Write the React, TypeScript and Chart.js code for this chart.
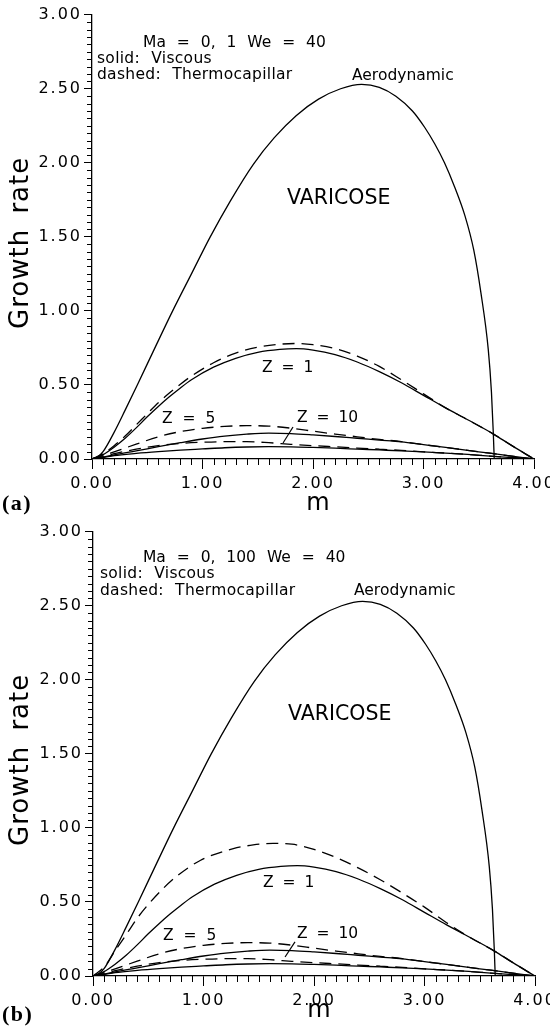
import React, { useEffect, useRef } from 'react';
import { Chart, registerables } from 'chart.js';
Chart.register(...registerables);

// ---------- axis ticks ----------
const xTicks = [0, 1, 2, 3, 4];
const yTicks = [0, 0.5, 1, 1.5, 2, 2.5, 3];
const xMinorStep = 0.1;
const yMinorStep = 0.05;

// ---------- Aerodynamic (solid, both panels) ----------
const aeroM = [0, 0.05, 0.1, 0.2, 0.3, 0.41, 0.55, 0.73, 0.9, 1.07, 1.25, 1.46, 1.65, 1.85, 2.05, 2.25, 2.44, 2.6, 2.75, 2.9, 3.01, 3.1, 3.19, 3.28, 3.376, 3.455, 3.52, 3.586, 3.615, 3.632, 3.64];
const aeroG = [0, 0.015, 0.05, 0.18, 0.33, 0.5, 0.72, 1.0, 1.25, 1.5, 1.74, 1.99, 2.17, 2.32, 2.43, 2.5, 2.53, 2.51, 2.45, 2.35, 2.24, 2.13, 2.0, 1.84, 1.64, 1.41, 1.12, 0.74, 0.45, 0.17, 0];

// ---------- Z = 1 ----------
const z1M = [0, 0.1, 0.2, 0.3, 0.4, 0.5, 0.6, 0.7, 0.8, 0.9, 1.1, 1.3, 1.5, 1.7, 1.85, 2.0, 2.2, 2.4, 2.6, 2.8, 3.0, 3.2, 3.4, 3.63, 3.8, 4.0];
const z1SolidG = [0, 0.03, 0.08, 0.14, 0.21, 0.285, 0.355, 0.42, 0.48, 0.535, 0.62, 0.68, 0.72, 0.74, 0.745, 0.735, 0.705, 0.655, 0.59, 0.515, 0.43, 0.345, 0.265, 0.17, 0.09, 0];
const z1DashAG = [0, 0.035, 0.09, 0.155, 0.23, 0.305, 0.38, 0.445, 0.505, 0.56, 0.65, 0.715, 0.755, 0.775, 0.78, 0.772, 0.745, 0.695, 0.625, 0.535, 0.44, 0.345, 0.265, 0.17, 0.09, 0];
const z1DashBM = [0, 0.1, 0.2, 0.31, 0.4, 0.52, 0.64, 0.76, 0.97, 1.27, 1.45, 1.63, 1.8, 2.0, 2.2, 2.4, 2.6, 2.8, 3.0, 3.2, 3.4, 3.63, 3.8, 4.0];
const z1DashBG = [0, 0.06, 0.17, 0.29, 0.39, 0.5, 0.595, 0.675, 0.78, 0.86, 0.885, 0.895, 0.89, 0.855, 0.8, 0.73, 0.65, 0.56, 0.465, 0.36, 0.265, 0.17, 0.09, 0];

// ---------- Z = 5 and Z = 10 ----------
const zLowM = [0, 0.1, 0.2, 0.4, 0.6, 0.8, 1.0, 1.2, 1.4, 1.6, 1.8, 2.0, 2.2, 2.4, 2.6, 2.8, 3.0, 3.2, 3.4, 3.6, 3.8, 4.0];
const z5SolidG = [0, 0.012, 0.028, 0.055, 0.083, 0.11, 0.135, 0.155, 0.168, 0.175, 0.172, 0.163, 0.152, 0.14, 0.128, 0.116, 0.097, 0.078, 0.058, 0.039, 0.019, 0];
const z5DashG = [0, 0.022, 0.048, 0.1, 0.15, 0.185, 0.207, 0.22, 0.225, 0.222, 0.208, 0.188, 0.168, 0.15, 0.132, 0.118, 0.097, 0.078, 0.058, 0.039, 0.019, 0];
const z10SolidG = [0, 0.01, 0.023, 0.038, 0.05, 0.06, 0.068, 0.076, 0.081, 0.083, 0.082, 0.078, 0.073, 0.067, 0.061, 0.055, 0.048, 0.04, 0.031, 0.02, 0.01, 0];
const z10DashG = [0, 0.016, 0.036, 0.066, 0.09, 0.105, 0.113, 0.117, 0.117, 0.11, 0.099, 0.09, 0.082, 0.074, 0.066, 0.058, 0.048, 0.04, 0.031, 0.02, 0.01, 0];

// ---------- texts ----------
const yTitle = 'Growth rate';
const xTitle = 'm';
const textsA = ['Ma = 0, 1 We = 40', 'solid: Viscous', 'dashed: Thermocapillar', 'Aerodynamic', 'VARICOSE', 'Z = 1', 'Z = 5', 'Z = 10'];
const textsB = ['Ma = 0, 100 We = 40', 'solid: Viscous', 'dashed: Thermocapillar', 'Aerodynamic', 'VARICOSE', 'Z = 1', 'Z = 5', 'Z = 10'];

const FONT = 'DejaVu Sans';

type Ann = { m: number; g: number; size: number; ws?: number; ls?: number };
const annPlaceA: Ann[] = [
  { m: 0.462, g: 2.784, size: 15.5, ws: 6 },
  { m: 0.045, g: 2.676, size: 15.5, ws: 6, ls: 0.3 },
  { m: 0.045, g: 2.568, size: 15.5, ws: 6, ls: 0.3 },
  { m: 2.353, g: 2.561, size: 15.5 },
  { m: 1.765, g: 1.723, size: 20.5 },
  { m: 1.538, g: 0.588, size: 15.5, ws: 4 },
  { m: 0.633, g: 0.243, size: 15.5, ws: 5 },
  { m: 1.855, g: 0.25, size: 15.5, ws: 4 },
];
const annPlaceB: Ann[] = [
  { m: 0.452, g: 2.797, size: 15.5, ws: 6 },
  { m: 0.063, g: 2.689, size: 15.5, ws: 6, ls: 0.3 },
  { m: 0.063, g: 2.574, size: 15.5, ws: 6, ls: 0.3 },
  { m: 2.362, g: 2.574, size: 15.5 },
  { m: 1.765, g: 1.73, size: 20.5 },
  { m: 1.538, g: 0.601, size: 15.5, ws: 4 },
  { m: 0.633, g: 0.243, size: 15.5, ws: 5 },
  { m: 1.846, g: 0.257, size: 15.5, ws: 4 },
];

type PanelCfg = {
  height: number;
  left: number;
  right: number;
  top: number;
  bottom: number;
  texts: string[];
  place: Ann[];
  slash: [number, number, number, number];
  z1DashM: number[];
  z1DashG: number[];
  letter: string;
  letterBaseline: number;
  xTitleBaseline: number;
};

const panelA: PanelCfg = {
  height: 517, left: 92, right: 534, top: 14.7, bottom: 459,
  texts: textsA, place: annPlaceA, slash: [1.729, 0.108, 1.819, 0.216],
  z1DashM: z1M, z1DashG: z1DashAG, letter: '(a)', letterBaseline: 510, xTitleBaseline: 510,
};
const panelB: PanelCfg = {
  height: 510, left: 93, right: 535, top: 14.7, bottom: 459,
  texts: textsB, place: annPlaceB, slash: [1.738, 0.128, 1.828, 0.23],
  z1DashM: z1DashBM, z1DashG: z1DashBG, letter: '(b)', letterBaseline: 504, xTitleBaseline: 500,
};

const pts = (m: number[], g: number[]) => m.map((v, i) => ({ x: v, y: g[i] }));

function makeOverlay(cfg: PanelCfg) {
  return {
    id: 'overlay',
    beforeDraw(chart: any) {
      (chart.ctx as any).letterSpacing = '2px';
    },
    afterDraw(chart: any) {
      const ctx = chart.ctx as any;
      const { chartArea } = chart;
      const xs = chart.scales.x;
      const ys = chart.scales.y;
      ctx.save();
      ctx.letterSpacing = '0px';
      ctx.strokeStyle = '#000';
      ctx.lineWidth = 1;
      ctx.beginPath();
      const nx = Math.round((xs.max - xs.min) / xMinorStep);
      for (let i = 0; i <= nx; i++) {
        if (i % 10 === 0) continue;
        const px = Math.round(xs.getPixelForValue(xs.min + i * xMinorStep)) + 0.5;
        ctx.moveTo(px, chartArea.bottom);
        ctx.lineTo(px, chartArea.bottom + 6);
      }
      const ny = Math.round((ys.max - ys.min) / yMinorStep);
      for (let j = 0; j <= ny; j++) {
        if (j % 10 === 0) continue;
        const py = Math.round(ys.getPixelForValue(ys.min + j * yMinorStep)) + 0.5;
        ctx.moveTo(chartArea.left - 5, py);
        ctx.lineTo(chartArea.left, py);
      }
      ctx.stroke();

      // slash connector for Z = 10
      ctx.lineWidth = 1.2;
      ctx.beginPath();
      ctx.moveTo(xs.getPixelForValue(cfg.slash[0]), ys.getPixelForValue(cfg.slash[1]));
      ctx.lineTo(xs.getPixelForValue(cfg.slash[2]), ys.getPixelForValue(cfg.slash[3]));
      ctx.stroke();

      // annotations
      ctx.fillStyle = '#000';
      ctx.textBaseline = 'alphabetic';
      ctx.textAlign = 'left';
      cfg.texts.forEach((t, i) => {
        const p = cfg.place[i];
        ctx.font = `${p.size}px "${FONT}"`;
        ctx.wordSpacing = `${p.ws ?? 0}px`;
        ctx.letterSpacing = `${p.ls ?? 0}px`;
        ctx.fillText(t, xs.getPixelForValue(p.m), ys.getPixelForValue(p.g));
      });
      ctx.wordSpacing = '0px';

      // y title
      ctx.save();
      ctx.font = `26px "${FONT}"`;
      ctx.letterSpacing = '1px';
      ctx.wordSpacing = '6px';
      ctx.translate(28, (chartArea.top + chartArea.bottom) / 2 + 6);
      ctx.rotate(-Math.PI / 2);
      ctx.textAlign = 'center';
      ctx.fillText(yTitle, 0, 0);
      ctx.restore();

      // x title
      ctx.font = `24px "${FONT}"`;
      ctx.letterSpacing = '0px';
      ctx.wordSpacing = '0px';
      ctx.textAlign = 'center';
      ctx.fillText(xTitle, xs.getPixelForValue(2) + 5, cfg.xTitleBaseline);

      // panel letter
      ctx.font = `bold 22px "Liberation Serif"`;
      ctx.letterSpacing = '1.5px';
      ctx.textAlign = 'left';
      ctx.fillText(cfg.letter, 2, cfg.letterBaseline);
      ctx.letterSpacing = '0px';
      ctx.restore();
      ctx.letterSpacing = '0px';
    },
  };
}

function Panel({ cfg }: { cfg: PanelCfg }) {
  const ref = useRef<HTMLCanvasElement>(null);
  useEffect(() => {
    const line = (data: any, dashed: boolean) => ({
      data,
      borderColor: '#000',
      borderWidth: 1.3,
      borderDash: dashed ? [12, 7] : [],
      pointRadius: 0,
      fill: false,
      cubicInterpolationMode: 'monotone' as const,
    });
    const tickFont = { family: FONT, size: 16 };
    const chart = new Chart(ref.current!, {
      type: 'line',
      data: {
        datasets: [
          line(pts(aeroM, aeroG), false),
          line(pts(z1M, z1SolidG), false),
          line(pts(cfg.z1DashM, cfg.z1DashG), true),
          line(pts(zLowM, z5SolidG), false),
          line(pts(zLowM, z5DashG), true),
          line(pts(zLowM, z10SolidG), false),
          line(pts(zLowM, z10DashG), true),
        ],
      },
      options: {
        responsive: false,
        animation: false,
        events: [],
        layout: { padding: { top: cfg.top, right: 550 - cfg.right, left: 0, bottom: 0 } },
        plugins: { legend: { display: false }, tooltip: { enabled: false } },
        scales: {
          x: {
            type: 'linear',
            min: 0,
            max: 4,
            afterBuildTicks: (s: any) => { s.ticks = xTicks.map((v) => ({ value: v })); },
            afterFit: (s: any) => { s.height = cfg.height - cfg.bottom; s.paddingLeft = 0; s.paddingRight = 0; },
            ticks: { callback: (v: any) => Number(v).toFixed(2), font: tickFont, color: '#000', padding: 5, maxRotation: 0, autoSkip: false },
            grid: { drawOnChartArea: false, drawTicks: true, tickLength: 10, tickColor: '#000', tickWidth: 1 },
            border: { display: true, color: '#000', width: 1.3 },
          },
          y: {
            type: 'linear',
            min: 0,
            max: 3,
            afterBuildTicks: (s: any) => { s.ticks = yTicks.map((v) => ({ value: v })); },
            afterFit: (s: any) => { s.width = cfg.left; s.paddingTop = 0; s.paddingBottom = 0; },
            ticks: { callback: (v: any) => Number(v).toFixed(2), font: tickFont, color: '#000', padding: 2, autoSkip: false },
            grid: { drawOnChartArea: false, drawTicks: true, tickLength: 8, tickColor: '#000', tickWidth: 1 },
            border: { display: true, color: '#000', width: 1.3 },
          },
        },
      },
      plugins: [makeOverlay(cfg)],
    });
    return () => chart.destroy();
  }, [cfg]);
  return <canvas ref={ref} width={550} height={cfg.height} style={{ display: 'block', width: 550, height: cfg.height }} />;
}

export default function App() {
  return (
    <div style={{ position: 'absolute', left: 0, top: 0, width: 550, height: 1027, background: '#fff' }}>
      <Panel cfg={panelA} />
      <Panel cfg={panelB} />
    </div>
  );
}
